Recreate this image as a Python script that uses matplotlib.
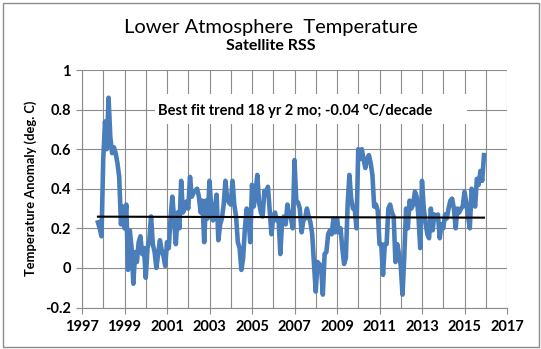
import numpy as np
import matplotlib
matplotlib.use("Agg")
import matplotlib.pyplot as plt
from matplotlib.patches import Rectangle
from matplotlib.ticker import MultipleLocator, FixedLocator

plt.rcParams['font.family'] = ['Lato', 'DejaVu Sans']

# ---- data: monthly anomalies (deg C), Oct 1997 .. Dec 2015 ----
start_year = 1997
start_month = 10
anom_1997 = [0.23, 0.20, 0.16]
anom_1998 = [0.55, 0.74, 0.60, 0.86, 0.66, 0.58, 0.61, 0.58, 0.53, 0.46, 0.22, 0.31]
anom_1999 = [0.20, 0.32, -0.01, 0.19, 0.10, -0.08, 0.08, 0.03, 0.13, 0.16, 0.07, 0.10]
anom_2000 = [-0.05, 0.10, 0.14, 0.26, 0.12, 0.08, 0.00, 0.07, 0.14, 0.09, 0.06, 0.01]
anom_2001 = [0.13, 0.10, 0.25, 0.36, 0.25, 0.12, 0.28, 0.20, 0.44, 0.28, 0.30, 0.335]
anom_2002 = [0.30, 0.46, 0.36, 0.38, 0.39, 0.40, 0.36, 0.28, 0.34, 0.13, 0.34, 0.25]
anom_2003 = [0.44, 0.30, 0.24, 0.30, 0.37, 0.14, 0.22, 0.25, 0.32, 0.44, 0.35, 0.33]
anom_2004 = [0.32, 0.44, 0.32, 0.26, 0.13, 0.10, -0.01, 0.05, 0.20, 0.30, 0.26, 0.13]
anom_2005 = [0.42, 0.31, 0.38, 0.47, 0.33, 0.28, 0.26, 0.39, 0.37, 0.41, 0.29, 0.17]
anom_2006 = [0.26, 0.28, 0.24, 0.25, 0.07, 0.24, 0.26, 0.22, 0.32, 0.27, 0.25, 0.20]
anom_2007 = [0.545, 0.34, 0.33, 0.30, 0.18, 0.24, 0.25, 0.30, 0.26, 0.23, 0.17, 0.02]
anom_2008 = [-0.12, 0.03, 0.02, 0.01, -0.135, 0.07, 0.08, 0.17, 0.19, 0.17, 0.25, 0.18]
anom_2009 = [0.25, 0.18, 0.20, 0.10, 0.02, 0.05, 0.32, 0.47, 0.35, 0.30, 0.30, 0.20]
anom_2010 = [0.60, 0.55, 0.60, 0.55, 0.505, 0.55, 0.57, 0.53, 0.47, 0.31, 0.32, 0.29]
anom_2011 = [0.12, 0.12, -0.035, 0.12, 0.12, 0.30, 0.32, 0.28, 0.26, 0.03, 0.12, 0.07]
anom_2012 = [0.01, -0.135, 0.06, 0.30, 0.20, 0.34, 0.30, 0.32, 0.385, 0.36, 0.26, 0.10]
anom_2013 = [0.44, 0.30, 0.23, 0.17, 0.15, 0.30, 0.19, 0.27, 0.25, 0.27, 0.15, 0.22]
anom_2014 = [0.20, 0.27, 0.25, 0.30, 0.34, 0.35, 0.30, 0.20, 0.30, 0.28, 0.30, 0.31]
anom_2015 = [0.385, 0.33, 0.26, 0.20, 0.40, 0.36, 0.31, 0.45, 0.42, 0.49, 0.44, 0.57]

# best-fit trend endpoints (deg C) at first and last month
trend_start = 0.259
trend_end = 0.254

title = "Lower Atmosphere  Temperature"
subtitle = "Satellite RSS"
ylabel = "Temperature Anomaly (deg. C)"
note = "Best fit trend 18 yr 2 mo; -0.04 \u00b0C/decade"
y_ticks = [-0.2, 0, 0.2, 0.4, 0.6, 0.8, 1]
y_ticklabels = ["-0.2", "0", "0.2", "0.4", "0.6", "0.8", "1"]
x_ticks = list(range(1997, 2018, 2))

values = np.array(anom_1997 + anom_1998 + anom_1999 + anom_2000 + anom_2001 +
                  anom_2002 + anom_2003 + anom_2004 + anom_2005 + anom_2006 +
                  anom_2007 + anom_2008 + anom_2009 + anom_2010 + anom_2011 +
                  anom_2012 + anom_2013 + anom_2014 + anom_2015)
t = start_year + (start_month - 1) / 12 + np.arange(len(values)) / 12

W, H = 541, 349
fig = plt.figure(figsize=(W / 100, H / 100), dpi=100)
L, R, T, B = 82, 507, 70, 307.5
ax = fig.add_axes([L / W, 1 - B / H, (R - L) / W, (B - T) / H])

grid_c = "#8c8c8c"
ax.set_xlim(1997, 2017)
ax.set_ylim(-0.2, 1.0)
ax.xaxis.set_major_locator(FixedLocator(x_ticks))
ax.xaxis.set_minor_locator(MultipleLocator(1))
ax.set_yticks(y_ticks)
ax.set_yticklabels(y_ticklabels)
ax.set_xticklabels([str(v) for v in x_ticks])
ax.grid(True, which="both", color=grid_c, linewidth=0.8)
ax.set_axisbelow(True)
for s in ["top", "right"]:
    ax.spines[s].set_visible(False)
for s in ["left", "bottom"]:
    ax.spines[s].set_color(grid_c)
    ax.spines[s].set_linewidth(0.8)
ax.tick_params(axis="both", which="major", length=4, color=grid_c, width=0.8,
               labelsize=10.5, pad=3)
ax.tick_params(axis="y", which="major", pad=4)
ax.tick_params(axis="x", which="major", pad=5)
ax.tick_params(axis="x", which="minor", length=0)
for lab in ax.get_xticklabels() + ax.get_yticklabels():
    lab.set_fontweight("bold")

ax.plot(t, values, color="#4a7ebb", linewidth=3.3, solid_joinstyle="round", zorder=3)
ax.plot([t[0], t[-1]], [trend_start, trend_end], color="black", linewidth=1.5, zorder=4)

# annotation box
ax.add_patch(Rectangle((2000.45, 0.725), 14.65, 0.155, facecolor="white",
                       edgecolor="none", zorder=2.5))
ax.text(2007.05, 0.795, note, ha="center", va="center", fontsize=10.5,
        fontweight="bold", zorder=5)

ax.set_ylabel(ylabel, fontsize=9.3, fontweight="bold", labelpad=6)

fig.text(0.5, 1 - 27 / H, title, ha="center", va="center", fontsize=14.5)
fig.text(0.5, 1 - 46 / H, subtitle, ha="center", va="center", fontsize=11.5,
         fontweight="bold")

fig.patches.append(Rectangle((2.5 / W, 2.5 / H), 1 - 5 / W, 1 - 5 / H,
                             transform=fig.transFigure, fill=False,
                             edgecolor="#8c8c8c", linewidth=1))

fig.savefig("out.png", dpi=100)
